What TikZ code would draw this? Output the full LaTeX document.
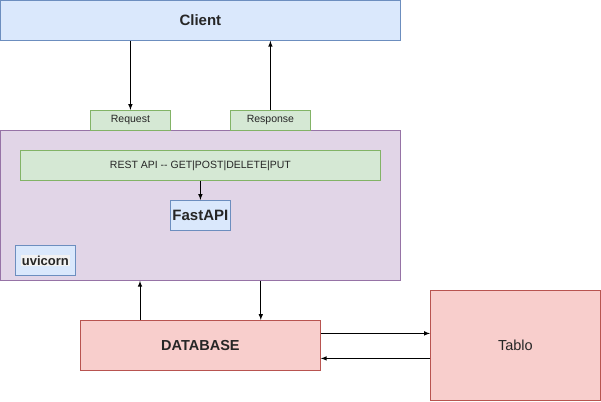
\documentclass[tikz,border=0pt]{standalone}
\usepackage{fontspec}
\setmainfont{Liberation Sans}
\usetikzlibrary{arrows}
\definecolor{bluefill}{HTML}{DAE8FC}
\definecolor{blueline}{HTML}{6C8EBF}
\definecolor{greenfill}{HTML}{D5E8D4}
\definecolor{greenline}{HTML}{82B366}
\definecolor{purplefill}{HTML}{E1D5E7}
\definecolor{purpleline}{HTML}{9673A6}
\definecolor{redfill}{HTML}{F8CECC}
\definecolor{redline}{HTML}{B85450}
\definecolor{uvbg}{HTML}{F2F2F2}
\tikzset{
	box/.style={anchor=north west,inner sep=0pt,line width=.8pt,text=black!85},
	bluebox/.style={box,fill=bluefill,draw=blueline},
	greenbox/.style={box,fill=greenfill,draw=greenline},
	redbox/.style={box,fill=redfill,draw=redline},
	arr/.style={-latex,line width=1pt}
}

\begin{document}
\begin{tikzpicture}[x=1pt,y=-1pt]
	\useasboundingbox (0,0) rectangle (601,401);
	
	\node[bluebox,minimum width=400pt,minimum height=40pt,font=\bfseries\fontsize{15}{17}\selectfont] (client) at (0,0) {Client};
	\node[box,fill=purplefill,draw=purpleline,minimum width=400pt,minimum height=150pt] (app) at (0,130) {};
	\node[greenbox,minimum width=80pt,minimum height=20pt,font=\fontsize{10.5}{12}\selectfont] (req) at (90,110) {Request};
	\node[greenbox,minimum width=80pt,minimum height=20pt,font=\fontsize{10.5}{12}\selectfont] (resp) at (230,110) {Response};
	\node[greenbox,minimum width=360pt,minimum height=30pt,font=\fontsize{10.5}{12}\selectfont] (rest) at (20,150) {REST API -{}- GET|POST|DELETE|PUT};
	\node[bluebox,minimum width=60pt,minimum height=30pt,font=\bfseries\fontsize{15}{17}\selectfont] (fast) at (170,200) {FastAPI};
	\node[bluebox,minimum width=60pt,minimum height=30pt,font=\bfseries\fontsize{13}{15}\selectfont] (uvi) at (15,245) {\fboxsep=1pt\colorbox{uvbg}{uvicorn}};
	\node[redbox,minimum width=240pt,minimum height=50pt,font=\bfseries\fontsize{14.5}{16}\selectfont] (db) at (80,320) {DATABASE};
	\node[redbox,minimum width=170pt,minimum height=110pt,font=\fontsize{14.5}{16}\selectfont] (tablo) at (430,290) {Tablo};
	
	% ends of the links between app and db
	\coordinate (dbup) at ([xshift=60pt]db.north west);
	\coordinate (dbdown) at ([xshift=-60pt]db.north east);
	\coordinate (dbout) at ([yshift=12pt]db.east);
	\coordinate (dbin) at ([yshift=-13pt]db.east);
	
	\draw[arr] (client.south -| req.north) -- (req.north);
	\draw[arr] (resp.north) -- (client.south -| resp.north);
	\draw[arr] (rest.south) -- (fast.north);
	\draw[arr] (dbup) -- (dbup |- app.south);
	\draw[arr] (dbdown |- app.south) -- (dbdown);
	\draw[arr] (dbout) -- (dbout -| tablo.west);
	\draw[arr] (dbin -| tablo.west) -- (dbin);
\end{tikzpicture}
\end{document}
